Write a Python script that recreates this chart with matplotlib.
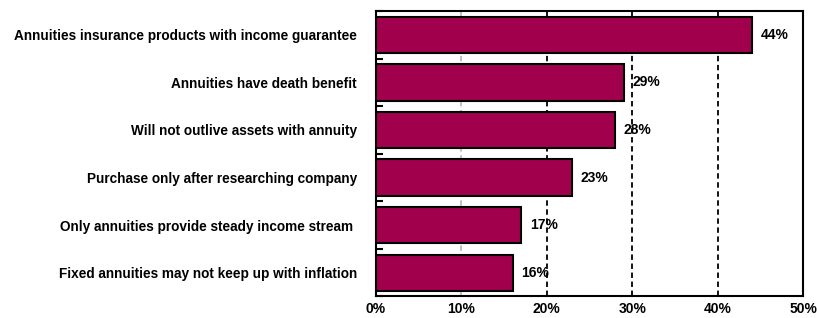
import numpy as np
import matplotlib.pyplot as plt

plt.rcParams['font.family'] = ['Liberation Sans', 'DejaVu Sans']
plt.rcParams['font.weight'] = 'bold'

labels = ['Annuities insurance products with income guarantee',
          'Annuities have death benefit',
          'Will not outlive assets with annuity',
          'Purchase only after researching company',
          'Only annuities provide steady income stream ',
          'Fixed annuities may not keep up with inflation']
values = [44, 29, 28, 23, 17, 16]
xticks = [0, 10, 20, 30, 40, 50]

fig = plt.figure(figsize=(8.17, 3.18), dpi=100)
ax = fig.add_axes([0.460, 0.068, 0.523, 0.897])

ind = np.arange(len(labels))
ax.barh(ind, values, height=0.76, color='#A0004C', edgecolor='black', linewidth=1.5, zorder=3)

for i, v in enumerate(values):
    ax.text(v + 1.0, i, '%d%%' % v, va='center', ha='left', fontsize=10, fontweight='bold', zorder=4)

ax.set_xlim(0, 50)
ax.set_ylim(len(labels) - 0.5, -0.5)
ax.set_xticks(xticks)
ax.set_xticklabels(['%d%%' % t for t in xticks], fontsize=10, fontweight='bold')
ax.set_yticks(ind)
ax.set_yticklabels(labels, fontsize=9.8, fontweight='bold')
ax.tick_params(axis='y', length=0, pad=13.5)
ax.tick_params(axis='x', length=0, pad=4)
ax.set_yticks(np.arange(len(labels) + 1) - 0.5, minor=True)
ax.tick_params(axis='y', which='minor', length=5, width=1.5, direction='in')

for t in xticks[1:-1]:
    col = '#bbbbbb' if t == 10 else 'black'
    ax.axvline(t, color=col, linestyle=(0, (3, 2)), linewidth=1.3, zorder=1)

for s in ax.spines.values():
    s.set_linewidth(1.5)

fig.savefig('out.png', dpi=100)
